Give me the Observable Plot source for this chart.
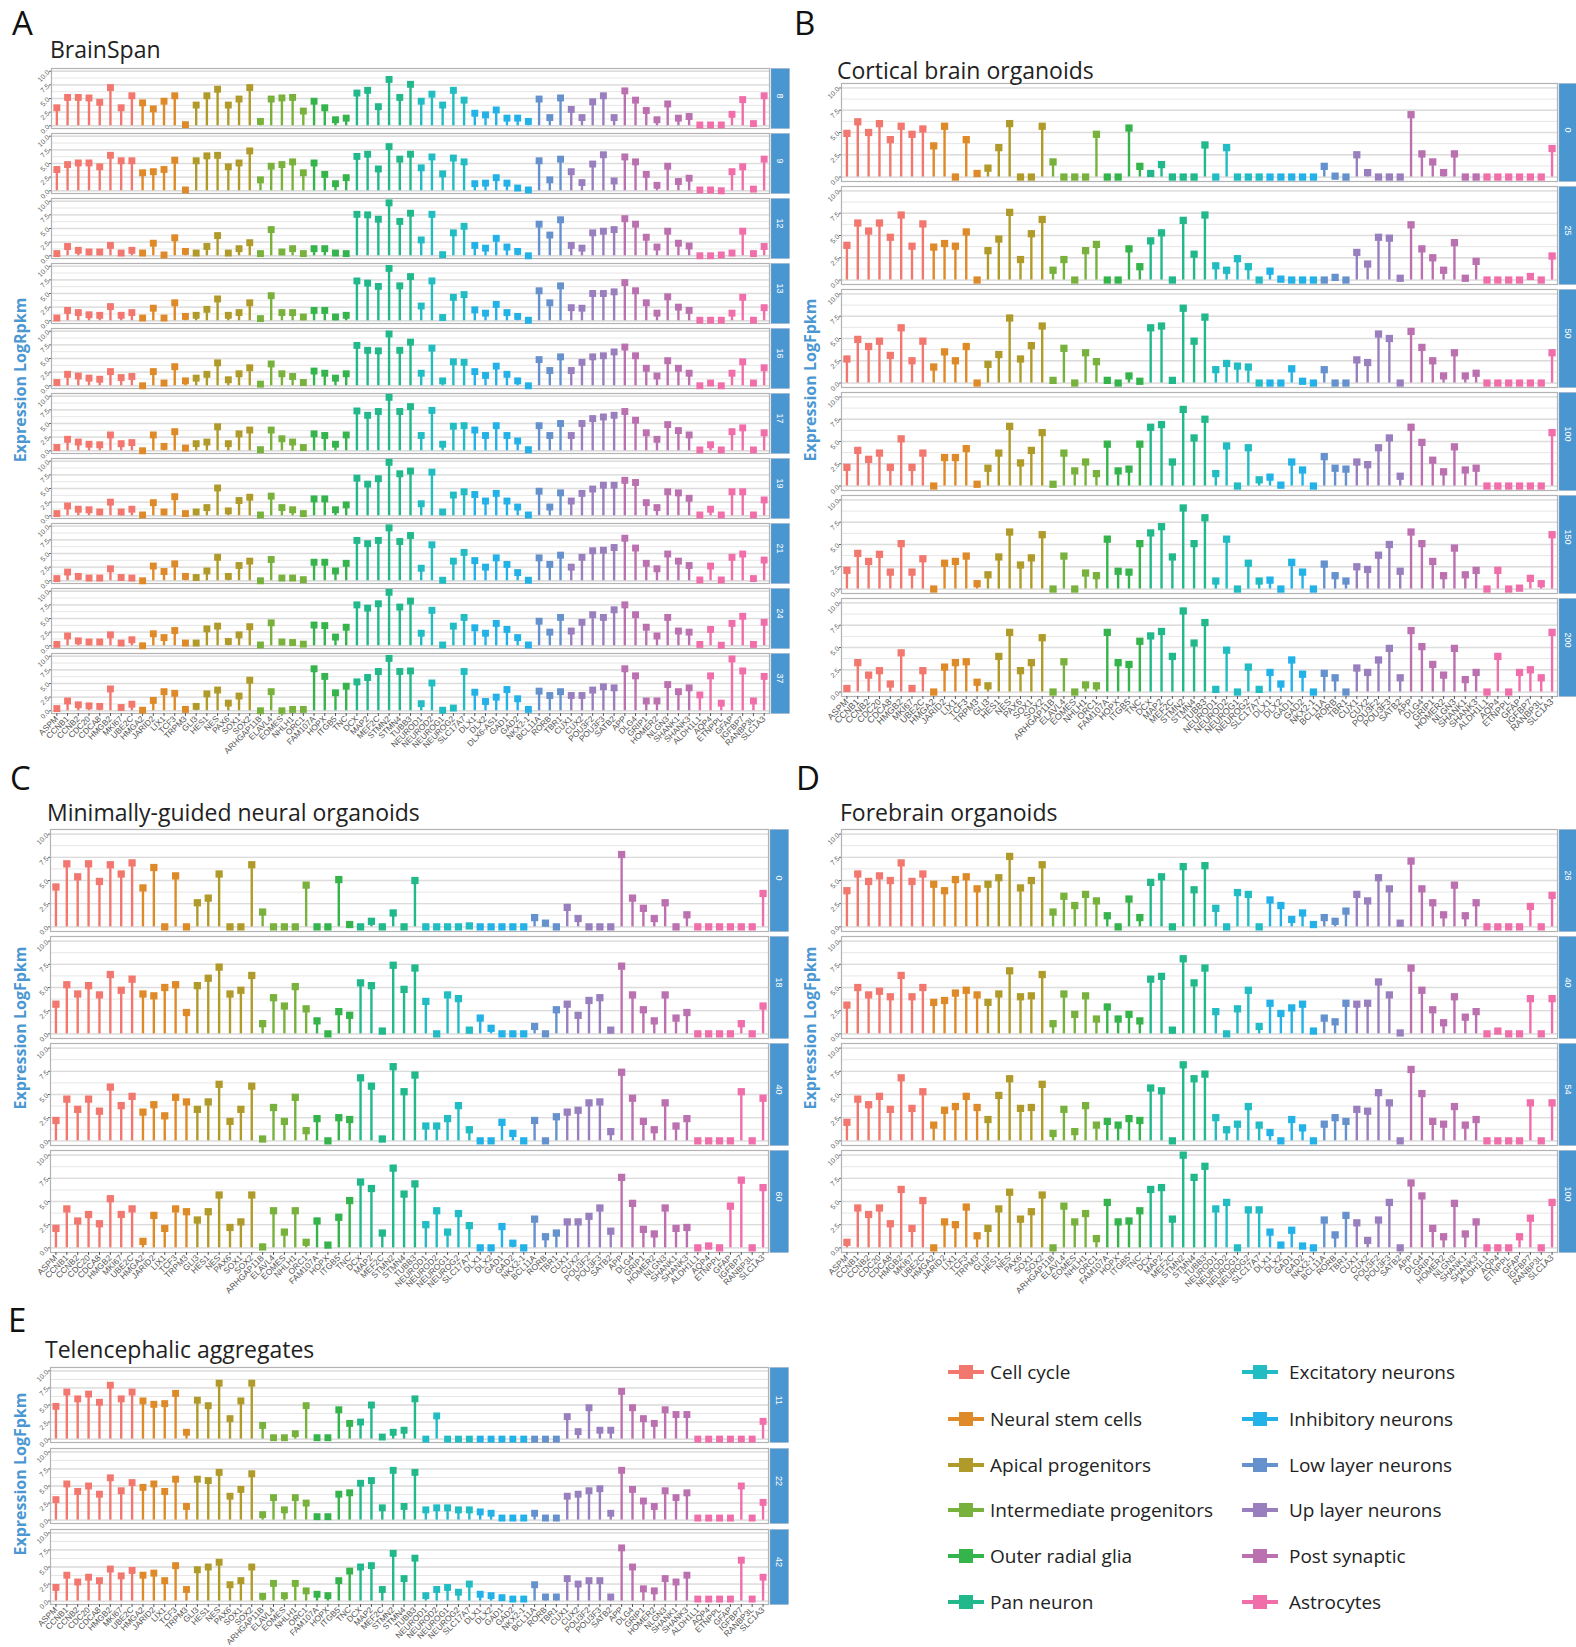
<!DOCTYPE html>
<html><head><meta charset="utf-8">
<script src="https://cdn.jsdelivr.net/npm/d3@7"></script>
<script src="https://cdn.jsdelivr.net/npm/@observablehq/plot@0.6"></script>
<style>
body{margin:0;background:#fff;}
#root{position:relative;width:1576px;height:1647px;overflow:hidden;font-family:"Liberation Sans",Arial,sans-serif;}
.letter{position:absolute;font-family:"Open Sans",sans-serif;font-size:33px;color:#111;line-height:1;white-space:nowrap}
.title{position:absolute;font-family:"Open Sans",sans-serif;font-size:23px;color:#222;line-height:1;white-space:nowrap}
.ylab{position:absolute;font-family:"Open Sans",sans-serif;font-weight:bold;font-size:16px;color:#4a97d2;transform:translate(-50%,-50%) rotate(-90deg);white-space:nowrap;line-height:1}
.panel{position:absolute}
.legend-item{position:absolute;display:flex;align-items:center;font-family:"Open Sans",sans-serif;font-size:19px;color:#222;white-space:nowrap;transform:translateY(-50%)}
.sw{position:relative;width:36px;height:14px}
.sw .ln{position:absolute;left:0;right:0;top:5px;height:4px}
.sw .sq{position:absolute;left:11px;top:0;width:14px;height:14px}
</style></head>
<body><div id="root"></div>
<script>
// ---- categories ----
const groupNames = ["Cell cycle","Neural stem cells","Apical progenitors","Intermediate progenitors","Outer radial glia","Pan neuron","Excitatory neurons","Inhibitory neurons","Low layer neurons","Up layer neurons","Post synaptic","Astrocytes"];
const groupColors = ["#f2786f","#df8a28","#b09b2a","#78b23c","#35b44c","#21b88c","#22bcc3","#22b2e8","#6592cd","#9a7fbf","#bb70b0","#f06ea9"];
const cellCycle = ["ASPM","CCNB1","CCNB2","CDC20","CDCA8","HMGB2","MKI67","UBE2C"];
const neuralStem = ["HMGA2","JARID2","LIX1","TCF3","TRPM3"];
const apical = ["GLI3","HES1","NES","PAX6","SOX1","SOX2"];
const intermediate = ["ARHGAP11B","ELAVL4","EOMES","NHLH1","ORC1"];
const outerRadial = ["FAM107A","HOPX","ITGB5","TNC"];
const panNeuron = ["DCX","MAP2","MEF2C","STMN2","STMN4","TUBB3"];
const excitatory = ["NEUROD1","NEUROD2","NEUROG1","NEUROG2","SLC17A7"];
const inhibitoryBrainSpan = ["DLX1","DLX2","DLX6-AS1","GAD1","GAD2","NKX2-1"];
const inhibitory = ["DLX1","DLX2","GAD1","GAD2","NKX2-1"];
const lowLayer = ["BCL11A","RORB","TBR1"];
const upLayer = ["CUX1","CUX2","POU3F2","POU3F3","SATB2"];
const postSynaptic = ["APP","DLG4","GRIP1","HOMER2","NLGN3","SHANK1","SHANK3"];
const astrocytes = ["ALDH1L1","AQP4","ETNPPL","GFAP","IGFBP7","RANBP3L","SLC1A3"];

// ---- facet labels ----
const facetsA = ["8","9","12","13","16","17","19","21","24","37"];
const facetsB = ["0","25","50","100","150","200"];
const facetsC = ["0","18","40","60"];
const facetsD = ["26","40","54","100"];
const facetsE = ["11","22","42"];

// ---- A: BrainSpan (LogRpkm), 67 genes ----
const bs8  = [3.3,5.2,5.2,5.1,4.3,7.0,3.3,5.5, 4.2,3.1,4.5,5.5,0.2, 3.8,5.5,6.7,3.8,4.9,7.0, 0.8,4.9,5.1,5.2,2.7, 4.5,3.3,1.1,1.4, 6.0,6.5,3.5,8.5,5.2,7.6, 4.5,5.8,3.8,6.5,4.7, 2.3,2.0,2.9,1.4,1.4,0.8, 4.9,1.5,5.1, 3.0,1.5,4.4,5.5,1.5, 6.4,4.7,2.8,1.1,4.0,1.4,1.7, 0.15,0.15,0.15,2.1,4.8,0.4,5.5];
const bs9  = [3.9,4.8,5.1,5.1,4.4,6.5,5.5,5.5, 3.3,3.5,3.9,5.6,0.15, 5.5,6.4,6.5,4.4,5.1,7.3, 2.0,4.5,4.8,5.3,3.3, 5.1,3.0,1.3,2.4, 6.3,6.7,4.0,8.1,5.8,6.7, 4.2,6.2,3.1,6.0,5.3, 1.3,1.4,2.4,1.4,0.5,0.15, 5.5,2.0,5.8, 3.5,1.5,4.9,6.6,1.8, 6.2,5.3,3.0,1.0,4.5,1.7,2.3, 0.15,0.15,0,3.5,4.4,0.3,5.8];
const bs12 = [0.4,1.7,1.0,0.7,0.7,1.9,0.5,1.0, 0.5,2.3,0.15,3.3,0.8, 0.5,1.7,3.7,0.5,1.3,2.4, 0.4,4.8,0.7,1.3,0.4, 1.3,1.3,0.5,0.4, 7.6,7.5,6.7,9.7,6.3,7.8, 2.9,7.6,0.2,4.2,5.4, 1.9,1.4,3.2,1.6,0.8,0, 5.8,3.8,6.6, 1.9,1.4,4.2,4.5,4.8, 6.8,5.8,3.4,1.6,4.5,2.3,1.8, 0,0,0.15,0.5,4.5,0.4,1.7];
const bs13 = [0.5,1.9,1.5,1.1,1.0,2.6,1.0,1.5, 0.5,2.3,0.5,3.3,0.8, 1.0,2.1,4.0,1.0,1.5,3.3, 0.4,4.6,1.5,1.5,0.7, 1.9,1.9,0.7,1.0, 7.3,6.9,6.3,9.6,6.4,8.1, 2.7,7.3,0.6,4.3,4.8, 2.0,1.4,3.0,1.5,0.8,0.1, 5.5,3.3,6.4, 2.4,2.3,5.0,5.0,5.3, 7.0,5.5,3.3,1.4,4.4,2.5,1.9, 0.1,0.1,0.1,1.4,4.3,0.1,2.4];
const bs16 = [0.6,2.1,1.8,1.4,1.2,2.6,1.5,1.7, 0,2.6,0.5,3.5,0.9, 1.4,2.1,4.2,1.1,2.2,3.3, 0.3,4.0,2.2,1.7,0.6, 2.7,2.3,1.4,2.2, 7.4,6.5,6.4,9.5,6.5,8.0, 2.3,6.9,0.9,4.4,4.3, 2.6,1.9,3.6,2.1,0.9,0, 4.8,2.8,5.3, 2.8,4.3,5.3,5.5,6.2, 7.1,5.5,3.2,1.8,4.6,3.2,2.3, 0,0.5,0,2.3,4.4,0.5,3.3];
const bs17 = [0.6,2.1,1.6,1.2,1.1,2.9,1.3,1.5, 0,2.9,0.8,3.5,0.5, 1.3,1.6,4.4,1.3,3.1,3.8, 0.2,3.8,2.2,1.6,0.6, 3.1,2.8,1.2,2.9, 7.3,6.5,7.2,9.8,7.2,8.1, 2.8,7.4,1.2,4.5,4.6, 3.8,2.8,4.6,2.8,1.8,0.2, 4.6,2.8,5.0, 2.8,5.0,5.9,6.2,6.5, 7.2,5.6,3.3,2.1,4.8,3.7,2.9, 0.15,1.1,0.15,3.5,4.2,0.15,3.3];
const bs19 = [0.4,1.8,1.2,1.1,0.7,2.5,0.7,1.2, 0.15,2.4,0.7,3.5,0.4, 0.7,1.5,5.1,0.9,2.8,3.4, 0.15,3.6,1.5,1.1,0.4, 3.1,3.1,1.1,2.0, 6.9,5.8,6.8,9.8,7.7,8.2, 2.2,8.0,0.7,3.8,4.4, 3.9,2.7,4.1,2.7,1.6,0.15, 4.5,1.6,4.2, 2.7,4.1,4.9,5.6,5.6, 6.5,6.1,2.4,1.5,4.4,4.2,3.2, 0.15,1.2,0.15,4.4,4.4,0.15,2.9];
const bs21 = [0.4,1.6,0.8,0.5,0.5,2.2,0.6,0.5, 0,2.7,1.7,3.1,0.8, 0.6,1.8,4.3,0.8,2.8,3.6, 0,3.9,0.5,0.5,0.2, 3.4,3.4,1.8,3.2, 7.4,6.8,7.4,9.7,7.2,8.3, 2.3,6.6,0.1,3.6,5.2, 3.7,2.5,4.2,3.0,1.5,0.1, 4.2,3.0,4.7, 2.5,4.3,5.5,5.6,6.1, 7.8,6.0,3.2,2.2,4.9,3.6,2.8, 0.15,2.7,0.15,4.3,4.9,0.4,3.8];
const bs24 = [0.25,1.8,0.9,0.7,0.7,2.0,0.5,1.1, 0,2.2,1.5,2.8,0.5, 0.5,3.1,3.6,0.8,2.0,3.5, 0.15,4.2,0.7,0.6,0.3, 3.8,3.7,1.6,3.4, 7.5,6.9,7.7,9.8,7.1,8.2, 2.3,6.5,0.15,3.6,5.2, 3.3,2.3,4.1,3.0,1.5,0.15, 4.5,2.5,5.2, 2.7,4.3,5.7,5.2,6.6, 7.5,5.7,3.4,1.8,5.2,2.7,2.5, 0.25,3.0,0.1,4.1,5.4,0.25,4.3];
const bs37 = [0.4,1.8,1.1,0.9,0.8,4.0,0.6,1.2, 0.1,1.9,3.5,3.2,0.25, 0.8,3.1,3.8,1.4,2.7,5.6, 0,3.5,0,0.25,0.25, 7.7,6.3,3.3,4.5, 5.3,6.1,7.2,9.6,7.2,7.3, 1.3,5.1,0.1,0.5,7.2, 3.4,1.7,2.5,3.9,2.2,0.25, 3.6,2.8,3.5, 2.8,2.8,3.8,4.4,4.2, 7.7,6.4,1.8,1.8,4.8,3.5,4.2, 2.9,6.4,1.4,9.5,7.3,1.8,6.3];

// ---- B: Cortical brain organoids (LogFpkm), 66 genes ----
const cbo0   = [4.9,6.2,5.0,6.0,4.2,5.7,4.8,5.4, 3.5,5.7,0,4.2,0.4, 1.0,3.3,6.0,0,0,5.7, 1.7,0,0,0,4.8, 0,0,5.5,1.2, 0.4,1.4,0,0,0,3.6, 0,3.3,0,0,0, 0,0,0,0,0, 1.2,0.1,0, 2.5,0.5,0,0,0, 7.0,2.6,1.7,0.5,2.6,0,0, 0,0,0,0,0,0,3.2];
const cbo25  = [3.9,6.4,5.5,6.4,4.8,7.3,3.8,6.3, 3.7,4.1,3.8,5.4,0, 3.3,4.6,7.6,2.3,5.2,6.8, 1.1,2.3,0,3.3,4.0, 0,0,3.5,1.5, 4.4,5.3,0,6.7,2.9,7.3, 1.6,1.1,2.4,1.5,0, 1.0,0.1,0,0,0, 0,0.3,0, 3.1,1.8,4.8,4.7,0.2, 6.2,3.5,2.5,1.1,4.2,0.2,2.1, 0,0,0,0,0.4,0,2.7];
const cbo50  = [2.7,4.9,4.1,4.7,3.1,6.2,2.5,4.7, 1.8,3.5,2.5,4.1,0, 2.1,3.2,7.3,2.7,4.2,6.4, 0.3,3.9,0,3.4,2.4, 0.3,0,0.8,0.2, 6.2,6.4,0.3,8.4,4.7,7.4, 1.5,2.2,1.9,1.8,0, 0,0,1.6,0.2,0, 1.5,0,0, 2.6,2.3,5.5,5.0,0, 5.8,4.0,2.5,0.8,3.4,0.8,1.1, 0,0,0,0,0,0,3.4];
const cbo100 = [2.1,4.0,3.0,3.7,2.1,5.3,2.1,3.7, 0,3.2,3.2,4.2,0.2, 2.0,3.7,6.7,2.6,4.0,6.0, 0.2,3.7,1.7,2.7,1.4, 4.7,1.7,1.9,4.7, 6.6,6.9,2.7,8.6,5.4,7.5, 1.4,4.5,0,4.3,0.7, 1.0,0.1,2.7,1.8,0, 3.3,2.0,1.9, 2.7,2.4,4.3,5.4,1.1, 6.6,4.9,2.9,1.6,4.4,1.8,2.0, 0,0,0,0,0,0,6.0];
const cbo150 = [2.1,4.0,3.1,3.9,1.9,5.1,1.9,3.4, 0,2.9,3.1,3.7,0.6, 1.6,3.6,6.4,2.7,3.5,6.1, 0,3.7,0,1.8,1.5, 5.6,2.0,1.9,5.1, 6.3,7.0,3.6,9.1,5.1,8.0, 0.9,5.6,0,2.9,0.9, 1.0,0,3.0,1.9,0, 2.8,1.5,0.9, 2.5,2.2,3.8,5.0,2.0, 6.4,5.1,3.1,1.5,4.6,1.6,2.1, 0,2.1,0,0.1,1.2,0.6,6.1];
const cbo200 = [0.4,3.3,1.9,2.4,0.9,4.4,0.4,2.4, 0,2.8,3.3,3.4,1.1, 0.7,4.0,6.7,2.4,3.3,6.1, 0,3.4,0,0.8,0.7, 6.7,3.3,3.1,5.7, 6.3,6.8,4.0,9.1,5.5,7.8, 0.3,4.7,0,2.8,0.3, 2.2,0.9,3.6,2.0,0, 2.1,1.6,0, 2.7,2.2,3.6,4.9,1.6, 6.9,5.1,3.1,1.9,4.9,1.4,2.2, 0,4.0,0,2.2,2.5,1.6,6.7];

// ---- C: Minimally-guided neural organoids ----
const mgo0  = [4.3,6.8,5.4,6.8,4.9,6.7,5.7,6.9, 4.2,6.4,0,5.5,0, 2.6,3.1,5.7,0,0,6.7, 1.6,0,0,0,4.5, 0,0,5.1,0.25, 0,0.6,0,1.5,0,5.0, 0,0,0,0,0.1, 0,0,0,0,0, 1.0,0.4,0, 2.1,0.9,0,0,0, 7.8,3.1,2.0,0.9,2.6,0,1.3, 0,0,0,0,0,0,3.6];
const mgo18 = [3.2,5.3,4.3,5.2,4.2,6.4,4.7,5.9, 4.3,4.1,5.0,5.3,2.3, 5.2,6.0,7.2,4.3,4.7,6.3, 1.1,3.9,3.0,5.1,2.7, 1.4,0,2.4,2.0, 5.5,5.2,0.3,7.4,4.8,7.1, 3.5,0,4.2,3.8,0.4, 1.7,0.6,0,0,0, 0.8,0,2.6, 3.2,2.0,3.6,3.9,0.4, 7.3,4.2,2.6,1.4,4.2,1.7,2.3, 0,0,0,0,1.1,0,3.0];
const mgo40 = [2.2,4.5,3.4,4.5,3.2,5.8,3.8,4.8, 3.1,3.9,2.7,4.7,4.2, 3.4,4.2,6.1,2.1,3.4,5.9, 0.2,3.6,2.1,4.7,1.1, 2.4,0,2.5,2.3, 6.8,5.9,0.2,8.0,5.3,7.1, 1.6,1.6,2.4,3.8,1.2, 0,0,2.0,0.8,0, 2.2,0,2.6, 3.1,3.3,4.1,4.2,1.0, 7.4,4.6,2.1,1.2,4.1,1.6,2.4, 0,0,0,0,5.3,0,4.6];
const mgo60 = [2.1,4.2,2.9,3.6,2.6,5.3,3.6,4.2, 0.7,3.5,2.1,4.2,3.9, 3.0,3.9,5.7,2.2,2.8,5.7, 0.1,4.0,1.7,4.0,0.6, 2.9,0.3,3.3,5.1, 7.1,6.4,1.6,8.6,5.8,6.9, 2.5,4.0,1.7,3.7,2.4, 0,0,2.3,0.5,0, 3.1,1.2,1.6, 2.8,2.8,3.4,4.3,1.8, 7.6,4.8,2.0,1.5,4.3,2.1,2.2, 0,0.2,0,4.5,7.3,0,6.5];

// ---- D: Forebrain organoids ----
const fbo26  = [3.9,5.7,4.9,5.5,5.0,6.9,4.9,5.7, 4.6,3.9,5.1,5.4,4.1, 4.6,5.3,7.6,4.2,5.0,6.7, 1.6,3.3,2.3,3.5,2.8, 1.2,0,3.0,1.0, 4.8,5.4,0,6.5,4.0,6.6, 2.0,0,3.7,3.5,0, 2.9,2.3,0.8,1.5,0.25, 1.0,0.6,1.7, 3.5,2.8,5.3,4.1,0.4, 7.1,4.1,2.6,1.3,4.5,1.2,2.6, 0,0,0,0,2.2,0,3.4];
const fbo40  = [3.1,5.0,4.2,4.6,4.0,6.3,4.0,5.0, 3.4,3.6,4.4,4.7,4.2, 3.4,4.3,6.8,4.0,4.1,6.4, 1.1,4.3,2.1,4.1,1.6, 2.9,1.6,2.1,1.4, 5.9,6.2,0.4,8.1,5.5,7.1, 2.4,0,2.7,4.7,0.8, 3.3,2.2,2.8,3.2,0.3, 1.7,1.3,3.3, 3.2,3.3,5.6,4.2,0.1, 7.1,4.7,2.6,1.2,4.0,1.8,2.4, 0,0.3,0,0,3.8,0,3.8];
const fbo54  = [2.0,4.5,3.9,4.8,3.4,6.8,3.5,5.3, 1.7,3.3,3.7,4.8,3.6, 2.3,4.9,6.7,3.5,3.6,6.1, 0.8,3.4,1.0,3.8,1.7, 2.1,1.7,2.4,2.2, 5.7,5.4,0,8.2,6.7,7.2, 2.5,1.2,1.8,3.7,1.7, 0.9,0,2.3,1.4,0, 1.8,2.5,2.1, 3.4,3.2,5.2,4.1,0, 7.7,5.1,2.1,1.8,3.7,1.7,2.3, 0,0,0,0,4.1,0,4.1];
const fbo100 = [0.6,4.3,3.6,4.3,2.6,6.3,2.1,5.1, 0,2.8,2.5,4.4,1.3, 2.1,4.2,6.0,3.1,3.9,5.7, 0,4.5,2.8,3.7,1.0, 4.9,2.8,2.9,4.0, 6.3,6.5,3.1,10.0,7.6,8.8, 4.2,4.9,0,4.1,4.1, 1.7,0.3,1.9,0.2,0, 3.0,1.4,3.5, 2.7,0.8,3.0,4.9,0, 7.0,5.6,2.1,1.2,4.8,1.5,2.8, 0,0,0,1.2,3.2,0,4.9];

// ---- E: Telencephalic aggregates ----
const ta11 = [4.8,6.9,5.9,6.6,5.4,7.9,5.9,6.9, 5.6,5.1,5.2,6.7,1.0, 5.7,4.9,8.2,3.0,5.6,8.2, 2.0,0.2,0.2,0.8,4.9, 0.2,0.2,4.3,2.3, 2.5,5.0,0.3,1.0,1.3,5.9, 0,3.4,0,0,0, 0,0,0,0,0, 0,0,0, 3.3,1.1,4.6,1.3,1.3, 7.0,4.6,3.0,2.3,4.3,3.6,3.6, 0,0,0,0,0,0,2.6];
const ta22 = [3.0,5.3,4.2,5.0,3.8,6.2,4.3,5.5, 4.8,5.3,4.2,6.0,2.0, 6.0,5.8,7.0,3.5,4.5,6.8, 0.8,3.3,1.5,3.3,2.5, 0.5,0.5,3.8,4.0, 5.4,5.8,1.8,7.3,2.0,7.0, 1.5,1.8,1.8,1.5,1.5, 1.2,1.0,0.3,0.3,0.3, 1.0,0.3,0.3, 3.5,3.8,4.3,4.6,1.0, 7.3,4.5,2.8,2.0,4.3,3.3,4.0, 0.3,0.3,0.3,0.3,5.0,0.3,2.6];
const ta42 = [2.0,3.8,2.8,3.5,3.0,4.7,3.7,4.5, 3.8,4.1,3.0,5.2,1.7, 4.6,5.0,5.7,2.4,3.0,5.0, 0.7,2.6,0.8,2.6,1.5, 1.0,0.8,3.0,4.4, 5.0,5.2,1.7,7.0,3.3,6.3, 0.8,1.7,2.0,1.3,2.5, 1.0,0.8,0.5,0.3,0.3, 2.4,0.6,0.6, 3.3,2.5,3.0,3.0,0.6, 7.8,5.0,1.8,1.5,3.3,2.8,3.8, 0.3,0.3,0.3,0.3,6.0,0.3,3.5];

// ---- tick labels ----
const yTicks = [0, 2.5, 5, 7.5, 10];
const yGrid = d3.range(0, 10.001, 1.25);

// ---- helpers ----
const groupLists = [cellCycle, neuralStem, apical, intermediate, outerRadial, panNeuron, excitatory, inhibitoryBrainSpan, lowLayer, upLayer, postSynaptic, astrocytes];
const groupOf = new Map();
groupLists.forEach((list, i) => list.forEach(g => groupOf.set(g, groupNames[i])));
const genesA = [].concat(cellCycle, neuralStem, apical, intermediate, outerRadial, panNeuron, excitatory, inhibitoryBrainSpan, lowLayer, upLayer, postSynaptic, astrocytes);
const genes = [].concat(cellCycle, neuralStem, apical, intermediate, outerRadial, panNeuron, excitatory, inhibitory, lowLayer, upLayer, postSynaptic, astrocytes);

function rows(geneList, labels, series) {
  return labels.flatMap((f, k) => geneList.map((g, i) => ({facet: f, gene: g, value: series[k][i], group: groupOf.get(g)})));
}

const root = document.getElementById("root");
function addDiv(cls, text, style) {
  const d = document.createElement("div");
  d.className = cls; d.textContent = text;
  Object.assign(d.style, style);
  root.appendChild(d);
  return d;
}

function panel(o) {
  const data = rows(o.genes, o.facets, o.series);
  const height = o.marginTop + o.area + o.marginBottom;
  const innerW = o.width - o.marginLeft - o.marginRight;
  const stripGap = 1.5, stripW = 18.5;
  const chart = Plot.plot({
    width: o.width, height,
    marginLeft: o.marginLeft, marginRight: o.marginRight, marginTop: o.marginTop, marginBottom: o.marginBottom,
    style: {fontFamily: "'Liberation Sans', Arial, sans-serif", fontSize: "9px", background: "transparent", overflow: "visible"},
    x: {type: "point", domain: o.genes, padding: 0.5},
    y: {domain: [-0.5, 10.5]},
    fy: {domain: o.facets, paddingInner: o.pad, paddingOuter: 0, axis: null},
    color: {domain: groupNames, range: groupColors},
    marks: [
      Plot.ruleY(yGrid, {stroke: "#e6e6e6", strokeWidth: 1}),
      Plot.ruleY(yTicks, {stroke: "#dcdcdc", strokeWidth: 1.3}),
      Plot.frame({stroke: "#b3b3b3", strokeWidth: 1.2}),
      Plot.frame({fill: "#4a96d1", stroke: "#9ab", strokeWidth: 0.5, insetLeft: innerW + stripGap, insetRight: -(stripGap + stripW)}),
      Plot.text(o.facets, {fy: d => d, text: d => d, frameAnchor: "right", dx: stripGap + stripW / 2, rotate: 90, fill: "white", fontSize: 9}),
      Plot.axisY({ticks: yTicks, tickFormat: d3.format(".1f"), tickRotate: -45, tickSize: 2, tickPadding: 1, fontSize: 7, color: "#666", label: null}),
      Plot.axisX({tickRotate: -45, tickSize: 3, tickPadding: 1, fontSize: o.xFont, color: "#555", label: null}),
      Plot.ruleX(data, {x: "gene", y1: 0, y2: "value", stroke: "group", strokeWidth: 2.4, fy: "facet"}),
      Plot.dot(data, {x: "gene", y: "value", symbol: "square", r: o.r, fill: "group", stroke: null, fy: "facet"})
    ]
  });
  const wrap = document.createElement("div");
  wrap.className = "panel";
  wrap.style.left = o.left + "px"; wrap.style.top = o.top + "px";
  wrap.appendChild(chart);
  root.appendChild(wrap);
}

// ---- panels ----
panel({left: 0, top: 60, width: 790, marginLeft: 51, marginRight: 21, marginTop: 6, area: 650, marginBottom: 62, pad: 0.07, genes: genesA, facets: facetsA, series: [bs8, bs9, bs12, bs13, bs16, bs17, bs19, bs21, bs24, bs37], xFont: 8.3, r: 3.9});
panel({left: 790, top: 78, width: 786, marginLeft: 51, marginRight: 19, marginTop: 5, area: 613, marginBottom: 62, pad: 0.05, genes, facets: facetsB, series: [cbo0, cbo25, cbo50, cbo100, cbo150, cbo200], xFont: 9, r: 4.1});
panel({left: 0, top: 820, width: 790, marginLeft: 50, marginRight: 22, marginTop: 8, area: 424, marginBottom: 62, pad: 0.05, genes, facets: facetsC, series: [mgo0, mgo18, mgo40, mgo60], xFont: 8.5, r: 4.1});
panel({left: 790, top: 820, width: 786, marginLeft: 51, marginRight: 19, marginTop: 9, area: 423, marginBottom: 62, pad: 0.05, genes, facets: facetsD, series: [fbo26, fbo40, fbo54, fbo100], xFont: 8.5, r: 4.1});
panel({left: 0, top: 1360, width: 790, marginLeft: 50, marginRight: 22, marginTop: 6, area: 238, marginBottom: 41, pad: 0.08, genes, facets: facetsE, series: [ta11, ta22, ta42], xFont: 8.3, r: 3.9});

// ---- letters, titles, axis titles ----
const fsL = 33, fsT = 23;
[["A", 12, 35], ["B", 794, 35], ["C", 10, 790], ["D", 796, 790], ["E", 8, 1332]].forEach(([t, x, b]) =>
  addDiv("letter", t, {left: x + "px", top: (b - 0.888 * fsL) + "px"}));
[["BrainSpan", 50, 58], ["Cortical brain organoids", 837, 79], ["Minimally-guided neural organoids", 47, 821], ["Forebrain organoids", 840, 821], ["Telencephalic aggregates", 45, 1358]].forEach(([t, x, b]) =>
  addDiv("title", t, {left: x + "px", top: (b - 0.888 * fsT) + "px"}));
[["Expression LogRpkm", 20, 380], ["Expression LogFpkm", 810, 380], ["Expression LogFpkm", 20, 1028], ["Expression LogFpkm", 810, 1028], ["Expression LogFpkm", 20, 1474]].forEach(([t, x, y]) =>
  addDiv("ylab", t, {left: x + "px", top: y + "px"}));

// ---- legend ----
const legendRows = [1372, 1418.5, 1465, 1510, 1556, 1602];
groupNames.forEach((name, i) => {
  const col = i < 6 ? 0 : 1;
  const row = i % 6;
  const item = addDiv("legend-item", "", {left: (col ? 1242 : 948) + "px", top: legendRows[row] + "px"});
  const sw = document.createElement("div"); sw.className = "sw";
  sw.style.marginRight = (col ? 11 : 6) + "px";
  const ln = document.createElement("div"); ln.className = "ln"; ln.style.background = groupColors[i];
  const sq = document.createElement("div"); sq.className = "sq"; sq.style.background = groupColors[i];
  sw.appendChild(ln); sw.appendChild(sq);
  const tx = document.createElement("span"); tx.textContent = name;
  item.appendChild(sw); item.appendChild(tx);
});
</script>
</body></html>
